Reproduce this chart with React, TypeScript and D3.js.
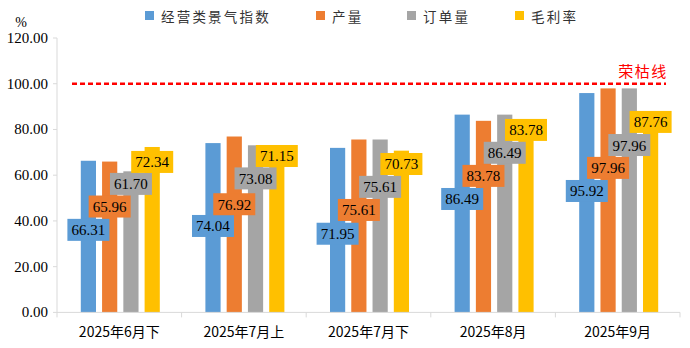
import React from "react";
import * as d3 from "d3";

const categories = ["2025年6月下", "2025年7月上", "2025年7月下", "2025年8月", "2025年9月"];
const seriesNames = ["经营类景气指数", "产量", "订单量", "毛利率"];
const seriesColors = ["#5B9BD5", "#ED7D31", "#A5A5A5", "#FFC000"];
const indexValues = [66.31, 74.04, 71.95, 86.49, 95.92];
const outputValues = [65.96, 76.92, 75.61, 83.78, 97.96];
const orderValues = [61.7, 73.08, 75.61, 86.49, 97.96];
const marginValues = [72.34, 71.15, 70.73, 83.78, 87.76];
// label anchor heights (in value units) as placed in the original chart
const indexLabelAt = [36.1, 37.8, 34.4, 49.6, 53.1];
const outputLabelAt = [46.3, 47.3, 44.8, 59.7, 63.2];
const orderLabelAt = [56.2, 58.6, 54.9, 69.8, 73.2];
const marginLabelAt = [65.8, 68.4, 64.9, 79.8, 83.3];
const yTicks = [0, 20, 40, 60, 80, 100, 120];
const boomBust = 100;
const boomBustLabel = "荣枯线";

const seriesValues = [indexValues, outputValues, orderValues, marginValues];
const seriesLabelAt = [indexLabelAt, outputLabelAt, orderLabelAt, marginLabelAt];

export default function App() {
  const W = 690, H = 348;
  const left = 57, right = 680, top = 38, bottom = 312.4;
  const y = d3.scaleLinear().domain([0, 120]).range([bottom, top]);
  const x = d3.scaleBand<string>().domain(categories).range([left, right]).padding(0);
  const inner = d3.scaleBand<number>().domain([0, 1, 2, 3]).range([-39.5, 39.5]).paddingInner(0.2857);
  const bw = inner.bandwidth();
  const serif = "'Liberation Serif', 'Times New Roman', serif";
  const cjk = "'Noto Sans CJK SC', 'Liberation Sans', sans-serif";
  const axisColor = "#d9d9d9";
  const legendX = [145, 316, 407, 515];

  return (
    <svg width={W} height={H} style={{ position: "absolute", left: 0, top: 0, background: "#fff" }}>
      {seriesNames.map((n, i) => (
        <g key={n}>
          <rect x={legendX[i]} y={11} width={9} height={9} fill={seriesColors[i]} />
          <text x={legendX[i] + 16} y={15.5} dominantBaseline="central" fontFamily={cjk} fontSize={13.5} letterSpacing={2.2} fill="#333">
            {n}
          </text>
        </g>
      ))}
      <text x={21} y={22} textAnchor="middle" dominantBaseline="central" fontFamily={serif} fontSize={14} fill="#000">%</text>

      <line x1={left} x2={left} y1={top} y2={bottom} stroke={axisColor} />
      {yTicks.map((t) => (
        <g key={t}>
          <line x1={left - 4} x2={left} y1={y(t)} y2={y(t)} stroke={axisColor} />
          <text x={48} y={y(t)} textAnchor="end" dominantBaseline="central" fontFamily={serif} fontSize={15} fill="#000">
            {t.toFixed(2)}
          </text>
        </g>
      ))}

      {categories.map((c, ci) => {
        const cx = (x(c) as number) + x.bandwidth() / 2 + 1;
        return (
          <g key={c}>
            {seriesValues.map((vals, si) => (
              <rect key={si} x={cx + (inner(si) as number)} y={y(vals[ci])} width={bw} height={bottom - y(vals[ci])} fill={seriesColors[si]} />
            ))}
          </g>
        );
      })}

      <line x1={left} x2={right} y1={bottom} y2={bottom} stroke={axisColor} />
      {[...categories.map((c) => x(c) as number), right].map((v, i) => (
        <line key={i} x1={v} x2={v} y1={bottom} y2={bottom + 5} stroke={axisColor} />
      ))}
      {categories.map((c) => (
        <text key={c} x={(x(c) as number) + x.bandwidth() / 2} y={331} textAnchor="middle" dominantBaseline="central" fontFamily={cjk} fontSize={14} fill="#000">
          {c}
        </text>
      ))}

      <line x1={72} x2={666} y1={y(boomBust)} y2={y(boomBust)} stroke="#FF0000" strokeWidth={2.5} strokeDasharray="5,3" />
      <text x={643} y={70} textAnchor="middle" dominantBaseline="central" fontFamily={cjk} fontSize={15} letterSpacing={1.5} fill="#FF0000">
        {boomBustLabel}
      </text>

      {categories.map((c, ci) => {
        const cx = (x(c) as number) + x.bandwidth() / 2 + 1;
        return (
          <g key={c}>
            {seriesValues.map((vals, si) => {
              const bx = cx + (inner(si) as number) + bw / 2;
              const by = y(seriesLabelAt[si][ci]);
              return (
                <g key={si}>
                  <rect x={bx - 21} y={by - 11} width={42} height={22} fill={seriesColors[si]} />
                  <text x={bx} y={by + 0.5} textAnchor="middle" dominantBaseline="central" fontFamily={serif} fontSize={15} fill="#000">
                    {vals[ci].toFixed(2)}
                  </text>
                </g>
              );
            })}
          </g>
        );
      })}
    </svg>
  );
}
